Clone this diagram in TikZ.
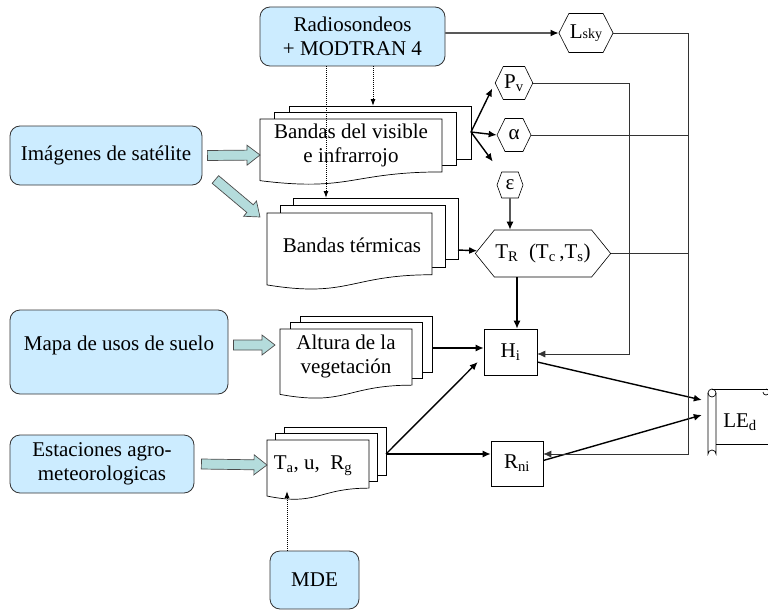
\documentclass[tikz,border=0pt]{standalone}
\usepackage{fontspec}
\setmainfont{Liberation Serif}
\usetikzlibrary{arrows.meta,shapes.symbols,calc}

\definecolor{skyfill}{RGB}{204,236,255}
\definecolor{tealfill}{RGB}{180,220,220}

\tikzset{
  srcbox/.style={draw=black!80, fill=skyfill, rounded corners=10pt, line width=0.8pt, align=center, inner sep=2pt},
  hexa/.style={draw, signal, signal to=east and west, line width=0.6pt, inner sep=1pt},
  varbox/.style={draw, line width=0.6pt, inner sep=1pt},
  docline/.style={draw, fill=white, line width=0.7pt},
  flow/.style={-{Latex[length=8pt,width=7pt]}, line width=1.4pt},
  feed/.style={line width=0.7pt, black!80},
  probe/.style={densely dotted, line width=1pt, -{Latex[length=7pt,width=5pt]}},
  blockarr/.style={fill=tealfill, draw=black!70, line width=0.7pt},
}

% fat arrow between two points
\newcommand{\blockarrow}[2]{%
  \draw[blockarr] let \p1=#1, \p2=#2,
      \n1={atan2(\y2-\y1,\x2-\x1)}, \n2={veclen(\x2-\x1,\y2-\y1)} in
    [shift={(\p1)}, rotate=\n1]
    (0,5) -- ({\n2-13},5) -- ({\n2-13},10) -- ({\n2},0)
    -- ({\n2-13},-10) -- ({\n2-13},-5) -- (0,-5) -- cycle;}

\begin{document}
\begin{tikzpicture}[x=1pt, y=-1pt, font=\rmfamily\fontsize{21}{24}\selectfont]
  \useasboundingbox (0,0) rectangle (768,610);

  % --- stacks of documents ---
  \foreach \nm/\x/\y/\w/\h/\dx/\dy/\ay/\oy in
      {vis/260/119/182/66/14.5/6.5/155/132,
       ter/267/213/165/77/13/7.5/217/250,
       alt/280/329/132/70/10/6.5/345/348,
       tau/267/440/102/60/8.5/6.5/465/454} {
    \foreach \k in {2,1}
      \draw[docline] (\x+\k*\dx,\y-\k*\dy) rectangle ++(\w,0.802*\h);
    \draw[docline] (\x,\y) -- ++(\w,0) -- ++(0,0.802*\h)
      .. controls (\x+0.5*\w,\y+0.802*\h) and (\x+0.5*\w,\y+1.107*\h) .. (\x,\y+0.934*\h) -- cycle;
    \coordinate (\nm-w) at (\x,\ay);
    \coordinate (\nm-top) at (\x,\y-2*\dy);
    \coordinate (\nm-out) at (\x+\w+2*\dx,\oy);
  }
  \node[align=center] (vis) at (351,145) {Bandas del visible\\e infrarrojo};
  \node (ter) at (352,245) {Bandas térmicas};
  \node[align=center] (alt) at (346,356) {Altura de la\\vegetación};
  \node (tau) at (313,466) {T\textsubscript{a}, u,~ R\textsubscript{g}};

  % --- input sources ---
  \node[srcbox, minimum width=185pt, minimum height=59pt] (rad) at (352.5,36.5) {Radiosondeos\\+ MODTRAN 4};
  \node[srcbox, minimum width=192pt, minimum height=59pt] (sat) at (106,155.5) {Imágenes de satélite};
  \node[srcbox, minimum width=218pt, minimum height=84pt, text depth=18pt] (map) at (119,352) {Mapa de usos de suelo};
  \node[srcbox, minimum width=184pt, minimum height=58pt] (est) at (102,464) {Estaciones agro-\\meteorologicas};
  \node[srcbox, minimum width=89pt, minimum height=58pt] (mde) at (314.5,580) {MDE};

  % --- derived variables ---
  \node[hexa, minimum width=47pt, minimum height=39pt, signal pointer angle=126] (lsky) at (586,33) {L{\fontsize{14}{14}\selectfont sky}};
  \node[hexa, minimum width=34pt, minimum height=33pt, signal pointer angle=128] (pv) at (514,83) {P\textsubscript{v}};
  \node[hexa, minimum width=34pt, minimum height=33pt, signal pointer angle=128] (alpha) at (514,135) {α};
  \node[hexa, minimum width=26pt, minimum height=26pt, signal pointer angle=140] (eps) at (510,185) {ε};
  \node[hexa, minimum width=105pt, minimum height=47pt, signal pointer angle=102] (tr) at (543,253.5) {T\textsubscript{R}~ (T\textsubscript{c}\,,T\textsubscript{s})};
  \node[varbox, minimum width=53pt, minimum height=46pt] (hi) at (510.5,352) {H\textsubscript{i}};
  \node[varbox, minimum width=52pt, minimum height=45pt] (rni) at (517,463.5) {R\textsubscript{ni}};

  % --- scroll for the result ---
  \draw[line width=0.7pt] (708,393) -- (708,454) arc[start angle=180, end angle=360, radius=4] -- (716,393);
  \draw[line width=0.7pt] (712,393) circle[radius=4];
  \draw[line width=0.7pt] (712,389) -- (776,389);
  \draw[line width=0.7pt] (716,444) -- (776,444);
  \draw[line width=0.7pt] (766,389) arc[start angle=-90, end angle=180, radius=3];
  \node[minimum width=72pt, minimum height=66pt] (led) at (740,422) {LE\textsubscript{d}};

  % --- fat arrows from the sources ---
  \blockarrow{([xshift=5pt]sat.east)}{(vis-w)}
  \blockarrow{([shift={(13,24)}]sat.east)}{([xshift=-7pt]ter-w)}
  \blockarrow{([shift={(5,-7)}]map.east)}{([xshift=-5pt]alt-w)}
  \blockarrow{([xshift=7pt]est.east)}{(tau-w)}

  % --- dotted inputs ---
  \coordinate (radL) at ([xshift=-26.5pt]rad.south);
  \coordinate (radR) at ([xshift=20.5pt]rad.south);
  \coordinate (mdeL) at ([xshift=-27.5pt]mde.north);
  \draw[probe] (radL) -- (radL |- ter-top);
  \draw[probe] (radR) -- (radR |- vis-top);
  \draw[probe] (mdeL) -- ([shift={(20,26)}]tau-w);

  % --- main flow ---
  \draw[flow] (rad.east |- lsky) -- (lsky);
  \draw[flow, shorten >=6pt] (vis-out) -- (pv.west);
  \draw[flow] (vis-out) -- (alpha.west);
  \draw[flow, shorten >=14pt] (vis-out) -- (eps);
  \draw[flow] (eps) -- (eps |- tr.north);
  \draw[flow] (ter-out) -- (tr);
  \draw[flow] ([xshift=-26pt]tr.south) -- ([xshift=6.5pt]hi.north);
  \draw[flow] (alt-out) -- (hi.west |- alt-out);
  \draw[flow] (tau-out) -- ([shift={(-6,10)}]hi.west);
  \draw[flow] (tau-out) -- (rni.west |- tau-out);
  \draw[flow] ([yshift=-10pt]hi.east) -- ([shift={(-2,-22)}]led.west);
  \draw[flow] ([yshift=3pt]rni.east) -- ([shift={(-2,-7)}]led.west);

  % --- feedback lines on the right ---
  \coordinate (busR) at (688,454);
  \coordinate (busP) at (629,354);
  \draw[feed, -{Latex[length=8pt,width=7pt]}] (lsky.east) -| (busR) -- (rni.east |- busR);
  \draw[feed] (alpha.east) -- (alpha.east -| busR);
  \draw[feed] (tr.east) -- (tr.east -| busR);
  \draw[feed, -{Latex[length=8pt,width=7pt]}] (pv.east) -| (busP) -- (hi.east |- busP);
\end{tikzpicture}
\end{document}
